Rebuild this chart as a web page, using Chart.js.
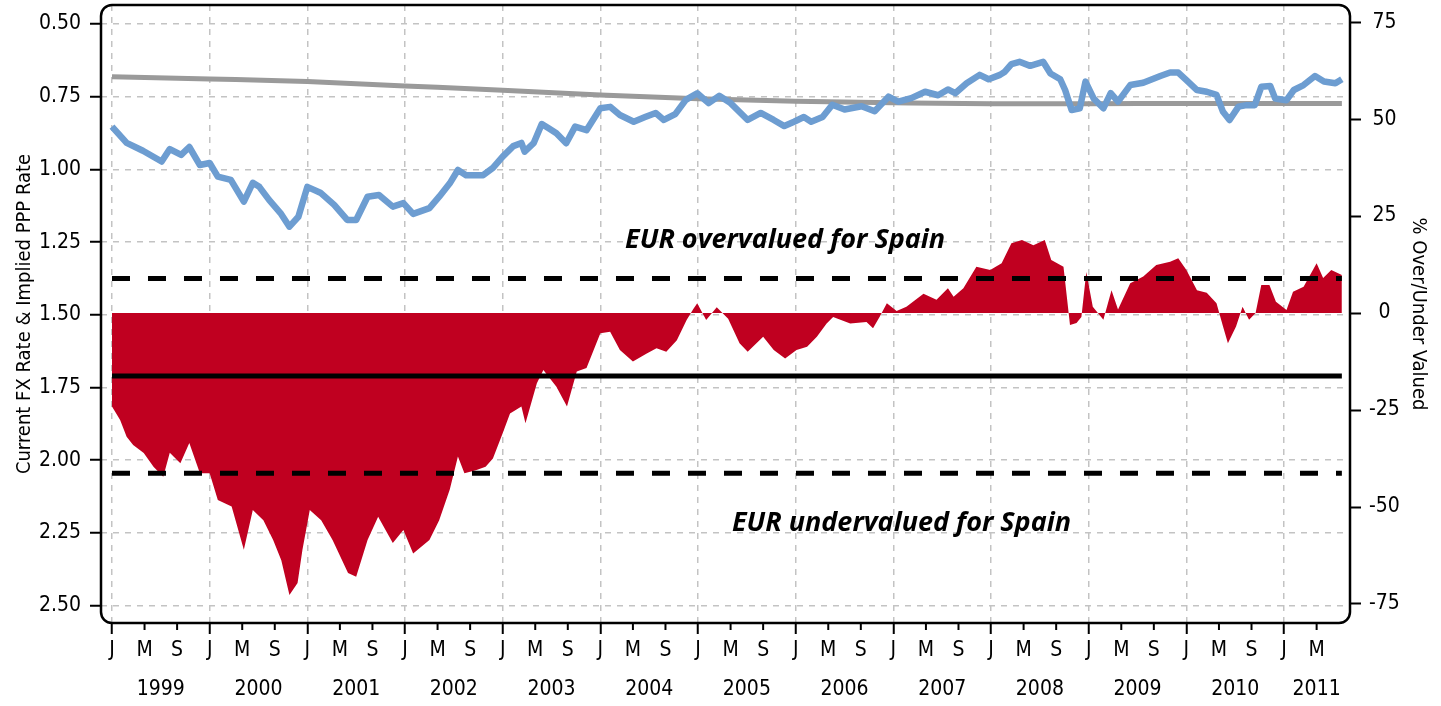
<!DOCTYPE html>
<html>
<head>
<meta charset="utf-8">
<title>EUR valuation for Spain</title>
<script src="https://cdn.jsdelivr.net/npm/chart.js@4/dist/chart.umd.min.js"></script>
<style>
    html, body { margin: 0; padding: 0; background: #fff; }
    #wrap { width: 1441px; height: 706px; }
</style>
</head>
<body>
<div id="wrap"><canvas id="chart" width="1441" height="706"></canvas></div>
<script>
// Months counted from Jan 1999 (0 = Jan 1999)
const fxMonths = [0, 1.8, 3.8, 6.1, 7.1, 8.5, 9.5, 10.8, 12, 13, 14.6, 16.2, 17.3, 18.1, 19.3, 20.7, 21.8, 22.9,
    24, 25.6, 27.3, 28.9, 30, 31.4, 32.8, 34.5, 35.8, 37, 39, 40.2, 41.5, 42.5, 43.5, 45.6, 46.8,
    48, 49.3, 50.3, 50.7, 51.8, 52.8, 53.6, 54.6, 55.8, 56.9, 58.3, 60, 61.2, 62.4, 64.1, 65.5, 66.8,
    67.8, 69.2, 70.5, 71.9, 73.3, 74.6, 76, 78.1, 79.7, 81.3, 82.6, 83.8, 85, 85.9, 87.3, 88.5, 90,
    92.1, 93.7, 95.4, 96.6, 98.2, 99.9, 101.5, 102.7, 103.6, 105, 106.6, 107.7, 109.1, 109.7, 110.5,
    111.5, 112.8, 114.4, 115.3, 116.5, 117.1, 117.9, 118.9, 119.6, 120.6, 121.8, 122.7, 123.6, 125.1,
    126.7, 128.8, 130, 131, 132, 133.3, 134.5, 135.7, 136.5, 137.3, 138.4, 139.4, 140.4, 141.2, 142.3,
    142.9, 144.3, 145.2, 146.4, 147.8, 148.9, 150.3, 151.1];
const fxRate = [0.853, 0.909, 0.936, 0.973, 0.930, 0.950, 0.923, 0.985, 0.978, 1.025, 1.036, 1.111, 1.046, 1.060, 1.105, 1.150, 1.197, 1.163,
    1.060, 1.080, 1.122, 1.174, 1.174, 1.094, 1.088, 1.128, 1.116, 1.153, 1.133, 1.094, 1.048, 1.002, 1.020, 1.020, 0.995,
    0.956, 0.920, 0.909, 0.939, 0.910, 0.844, 0.858, 0.876, 0.910, 0.853, 0.865, 0.790, 0.785, 0.813, 0.836, 0.820, 0.806,
    0.830, 0.810, 0.761, 0.738, 0.772, 0.747, 0.772, 0.830, 0.806, 0.830, 0.851, 0.836, 0.820, 0.836, 0.820, 0.778, 0.794,
    0.783, 0.800, 0.750, 0.767, 0.755, 0.733, 0.745, 0.725, 0.738, 0.704, 0.675, 0.690, 0.675, 0.664, 0.638,
    0.630, 0.644, 0.630, 0.670, 0.690, 0.727, 0.796, 0.790, 0.698, 0.756, 0.790, 0.738, 0.767, 0.710,
    0.702, 0.679, 0.667, 0.667, 0.693, 0.727, 0.733, 0.744, 0.802, 0.830, 0.784, 0.779, 0.779, 0.716, 0.713,
    0.756, 0.762, 0.727, 0.710, 0.679, 0.698, 0.704, 0.690];

const pppMonths = [0, 12, 24, 36, 48, 60, 72, 84, 96, 108, 120, 132, 144, 151.1];
const pppRate = [0.681, 0.689, 0.698, 0.713, 0.728, 0.744, 0.757, 0.766, 0.771, 0.774, 0.774, 0.773, 0.773, 0.773];

const valMonths = [0, 1, 1.8, 2.6, 3.9, 5.1, 6.3, 7.1, 8.4, 9.5, 10.8, 12, 13, 14.7, 16.2, 17.3, 18.6, 19.8, 20.8, 21.8,
    22.8, 23.4, 24.3, 25.7, 27.1, 29, 30, 31.4, 32.7, 34.5, 35.8, 37, 39, 40.2, 41.5, 42.5, 43.3, 44.7, 45.9,
    46.8, 48, 48.9, 50.3, 50.8, 52.2, 53, 54.6, 55.9, 57.1, 58.3, 60, 61.2, 62.4, 64, 65.7, 66.9, 68.1, 69.4,
    70.6, 71.4, 71.9, 73, 74.3, 75.7, 77.1, 78.1, 80, 81.3, 82.7, 84.1, 85.4, 86.6, 87.8, 88.6, 90.7, 92.7,
    93.5, 94.3, 95.2, 96.4, 97.6, 99.7, 101.3, 102.7, 103.4, 104.6, 106.2, 107.9, 109.3, 110.5, 111.8, 113.2,
    114.6, 115.4, 116.9, 117.7, 118.5, 119.1, 119.7, 120.5, 121.8, 122.8, 123.6, 125.1, 126.7, 128.3, 130,
    131, 132, 133.3, 134.5, 135.7, 136.5, 137.1, 138.1, 138.9, 139.7, 140.5, 141.2, 142.2, 143, 144.3, 145.1,
    146.4, 148, 148.8, 149.8, 151.1];
const valPct = [-24.1, -27.6, -31.9, -34, -36.1, -39.6, -42.2, -36, -38.7, -33.5, -41.3, -41.3, -48.2, -49.9, -61, -50.8, -53.4, -58.5, -63.7, -72.7,
    -69.6, -61, -50.8, -53.4, -58.5, -67, -68, -58.5, -52.5, -59.3, -55.9, -62, -58.5, -53.4, -45.5, -37, -41.3, -40.5, -39.6,
    -37.5, -31, -25.9, -24.1, -28.4, -18.1, -14.7, -19, -24.1, -15.1, -14.2, -5.2, -4.8, -9.5, -12.5, -10.4, -9.1, -10, -7,
    -1.8, 1, 2.5, -1.8, 1.5, -1.5, -7.8, -10, -6.1, -9.5, -11.7, -9.5, -8.7, -6.1, -2.7, -1, -2.7, -2.3,
    -3.9, -1, 2.5, 0.5, 1.6, 5, 3.4, 6.4, 4.2, 6.4, 11.9, 11.1, 12.8, 18, 18.8, 17.5,
    18.8, 13.7, 11.9, -3.1, -2.6, -1, 10.6, 1.6, -1.7, 5.9, 0.9, 7.7, 9.4, 12.4, 13.2,
    14.1, 11.1, 5.9, 5.2, 2.5, -3.5, -7.8, -3.5, 1.6, -1.7, 0, 7.2, 7.2, 2.9, 0.8, 5.5,
    6.8, 12.8, 9, 11.1, 9.8];

// Reference levels (% over/under valued)
const bandUpper = 8.9;
const bandLower = -41.3;
const averageLevel = -16.2;
const lineSpan = [0, 151.1];

// Tick labels
const leftTicks = [0.5, 0.75, 1.0, 1.25, 1.5, 1.75, 2.0, 2.25, 2.5];
const rightTicks = [-75, -50, -25, 0, 25, 50, 75];
const monthTicks = [];
for (let m = 0; m <= 148; m += 4) monthTicks.push(m);
const monthLetters = { 0: 'J', 4: 'M', 8: 'S' };
const yearTicks = [6, 18, 30, 42, 54, 66, 78, 90, 102, 114, 126, 138, 148];
const yearLabels = ['1999', '2000', '2001', '2002', '2003', '2004', '2005', '2006', '2007', '2008', '2009', '2010', '2011'];

const noteTexts = ['EUR overvalued for Spain', 'EUR undervalued for Spain'];
const noteMonths = [82.7, 97];
const notePcts = [16.8, -56.2];

const narrow = "'DejaVu Sans Condensed', 'DejaVu Sans', sans-serif";
const GRID = '#c3c3c3';

function pts(xs, ys) {
    return xs.map((x, i) => ({ x: x, y: ys[i] }));
}

// no half-label padding around the plot; the frame is fixed
function noPad(s) {
    s.paddingTop = 0;
    s.paddingBottom = 0;
    s.paddingLeft = 0;
    s.paddingRight = 0;
}

// Rounded frame, minor month ticks and the two text notes
const framePlugin = {
    id: 'frame',
    afterDatasetsDraw(chart) {
        const { ctx, scales } = chart;
        ctx.save();
        ctx.font = "italic bold 27px 'Open Sans', 'Liberation Sans', sans-serif";
        ctx.fillStyle = '#000';
        ctx.textAlign = 'center';
        ctx.textBaseline = 'alphabetic';
        noteTexts.forEach((t, i) => {
            ctx.fillText(t, scales.x.getPixelForValue(noteMonths[i]), scales.y2.getPixelForValue(notePcts[i]));
        });
        ctx.restore();
    },
    afterDraw(chart) {
        const { ctx, chartArea: a, scales } = chart;
        const r = 11;
        ctx.save();
        ctx.strokeStyle = '#000';
        ctx.lineWidth = 2.5;
        ctx.beginPath();
        ctx.moveTo(a.left + r, a.top);
        ctx.arcTo(a.right, a.top, a.right, a.bottom, r);
        ctx.arcTo(a.right, a.bottom, a.left, a.bottom, r);
        ctx.arcTo(a.left, a.bottom, a.left, a.top, r);
        ctx.arcTo(a.left, a.top, a.right, a.top, r);
        ctx.closePath();
        ctx.stroke();
        // short ticks for May / Sep
        ctx.lineWidth = 2;
        scales.x.ticks.forEach(t => {
            if (t.value % 12 === 0) return;
            const px = scales.x.getPixelForValue(t.value);
            ctx.beginPath();
            ctx.moveTo(px, a.bottom);
            ctx.lineTo(px, a.bottom + 7);
            ctx.stroke();
        });
        ctx.restore();
    }
};

new Chart(document.getElementById('chart'), {
    type: 'line',
    data: {
        datasets: [
            {
                label: 'Current FX Rate',
                data: pts(fxMonths, fxRate),
                yAxisID: 'y',
                borderColor: '#6d9dd1',
                borderWidth: 6.5,
                borderJoinStyle: 'round',
                pointRadius: 0,
                fill: false
            },
            {
                label: 'Implied PPP Rate',
                data: pts(pppMonths, pppRate),
                yAxisID: 'y',
                borderColor: '#9a9a9a',
                borderWidth: 5,
                pointRadius: 0,
                cubicInterpolationMode: 'monotone',
                fill: false
            },
            {
                label: 'Upper band',
                data: pts(lineSpan, [bandUpper, bandUpper]),
                yAxisID: 'y2',
                borderColor: '#000',
                borderWidth: 5,
                borderDash: [18, 18],
                pointRadius: 0,
                fill: false
            },
            {
                label: 'Lower band',
                data: pts(lineSpan, [bandLower, bandLower]),
                yAxisID: 'y2',
                borderColor: '#000',
                borderWidth: 5,
                borderDash: [18, 18],
                pointRadius: 0,
                fill: false
            },
            {
                label: 'Average',
                data: pts(lineSpan, [averageLevel, averageLevel]),
                yAxisID: 'y2',
                borderColor: '#000',
                borderWidth: 5,
                pointRadius: 0,
                fill: false
            },
            {
                label: '% Over/Under Valued',
                data: pts(valMonths, valPct),
                yAxisID: 'y2',
                borderWidth: 0,
                borderColor: 'rgba(0,0,0,0)',
                backgroundColor: '#c00020',
                pointRadius: 0,
                fill: 'origin'
            }
        ]
    },
    options: {
        responsive: false,
        animation: false,
        devicePixelRatio: 1,
        layout: { padding: { top: 5, left: 0, right: 0, bottom: 0 } },
        plugins: {
            legend: { display: false },
            tooltip: { enabled: false }
        },
        scales: {
            x: {
                type: 'linear',
                position: 'bottom',
                weight: 0,
                min: -1.35,
                max: 152.1,
                afterBuildTicks: s => { s.ticks = monthTicks.map(v => ({ value: v })); },
                afterFit: s => { s.height = 45; noPad(s); },
                ticks: {
                    autoSkip: false,
                    maxRotation: 0,
                    padding: 4,
                    color: '#000',
                    font: { family: narrow, size: 21 },
                    callback: v => monthLetters[v % 12]
                },
                grid: {
                    color: c => (c.tick && c.tick.value % 12 === 0) ? GRID : 'rgba(0,0,0,0)',
                    lineWidth: 1.5,
                    tickColor: c => (c.tick && c.tick.value % 12 === 0) ? '#000' : 'rgba(0,0,0,0)',
                    tickWidth: 2,
                    tickLength: 11
                },
                border: { display: false, dash: [6, 6] }
            },
            x2: {
                type: 'linear',
                position: 'bottom',
                weight: 1,
                min: -1.35,
                max: 152.1,
                afterBuildTicks: s => { s.ticks = yearTicks.map(v => ({ value: v })); },
                afterFit: s => { s.height = 38; noPad(s); },
                ticks: {
                    autoSkip: false,
                    maxRotation: 0,
                    padding: 9,
                    color: '#000',
                    font: { family: narrow, size: 21 },
                    callback: (v, i) => yearLabels[i]
                },
                grid: { display: false, drawTicks: false },
                border: { display: false }
            },
            y: {
                position: 'left',
                reverse: true,
                min: 0.4347,
                max: 2.5598,
                afterBuildTicks: s => { s.ticks = leftTicks.map(v => ({ value: v })); },
                afterFit: s => { s.width = 101; noPad(s); },
                ticks: {
                    padding: 9,
                    color: '#000',
                    font: { family: narrow, size: 21 },
                    callback: v => Number(v).toFixed(2)
                },
                grid: {
                    color: GRID,
                    lineWidth: 1.5,
                    tickColor: '#000',
                    tickWidth: 2,
                    tickLength: 11
                },
                border: { display: false, dash: [6, 6] },
                title: {
                    display: true,
                    text: 'Current FX Rate & Implied PPP Rate',
                    color: '#000',
                    font: { family: narrow, size: 20 },
                    padding: { top: 13, bottom: 0 }
                }
            },
            y2: {
                position: 'right',
                min: -79.9,
                max: 79.4,
                afterBuildTicks: s => { s.ticks = rightTicks.map(v => ({ value: v })); },
                afterFit: s => { s.width = 91; noPad(s); },
                ticks: {
                    padding: 8,
                    crossAlign: 'center',
                    color: '#000',
                    font: { family: narrow, size: 21 },
                    callback: v => String(v)
                },
                grid: {
                    drawOnChartArea: false,
                    tickColor: '#000',
                    tickWidth: 2,
                    tickLength: 11
                },
                border: { display: false },
                title: {
                    display: true,
                    text: '% Over/Under Valued',
                    color: '#000',
                    font: { family: narrow, size: 20 },
                    padding: { top: 11, bottom: 0 }
                }
            }
        }
    },
    plugins: [framePlugin]
});
</script>
</body>
</html>
